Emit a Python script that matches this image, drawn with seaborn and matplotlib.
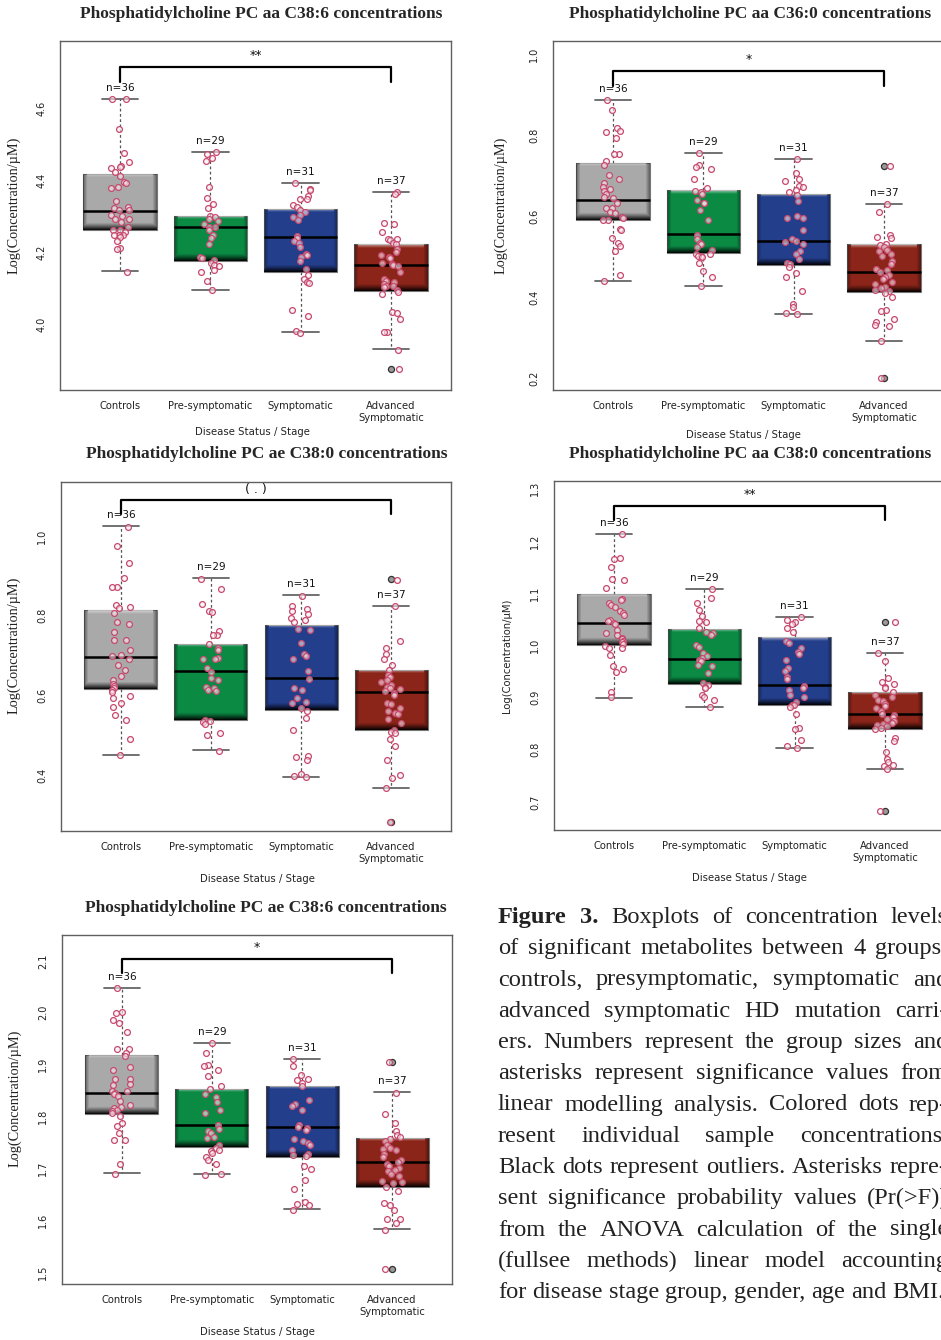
import numpy as np
import pandas as pd
import matplotlib
matplotlib.use("Agg")
import matplotlib.pyplot as plt
import seaborn as sns

# groups shared by every panel
groups = ["Controls", "Pre-symptomatic", "Symptomatic", "Advanced\nSymptomatic"]
group_n = [36, 29, 31, 37]
box_colors = ["#a9a9a9", "#0b8a44", "#233e8b", "#8c2519"]

# PC aa C38:6
aa386_title = "Phosphatidylcholine PC aa C38:6 concentrations"
aa386_sig = "**"
aa386_yticks = [4.0, 4.2, 4.4, 4.6]
aa386_whislo = [4.147, 4.094, 3.977, 3.931]
aa386_q1 = [4.261, 4.175, 4.144, 4.092]
aa386_med = [4.314, 4.270, 4.241, 4.164]
aa386_q3 = [4.417, 4.300, 4.319, 4.222]
aa386_whishi = [4.625, 4.478, 4.392, 4.367]
aa386_fliers = [[], [], [], [3.874]]
aa386_points = [
    [4.625, 4.625, 4.543, 4.475, 4.449, 4.440, 4.437, 4.432, 4.422, 4.411, 4.395, 4.393,
     4.381, 4.379, 4.341, 4.325, 4.321, 4.318, 4.316, 4.304, 4.300, 4.293, 4.291, 4.284,
     4.269, 4.262, 4.260, 4.257, 4.248, 4.247, 4.246, 4.242, 4.231, 4.212, 4.209, 4.145],
    [4.478, 4.472, 4.462, 4.453, 4.381, 4.350, 4.334, 4.321, 4.299, 4.297, 4.293, 4.286,
     4.279, 4.270, 4.270, 4.260, 4.246, 4.240, 4.222, 4.186, 4.184, 4.177, 4.171, 4.163,
     4.161, 4.149, 4.144, 4.119, 4.094],
    [4.392, 4.376, 4.373, 4.356, 4.347, 4.346, 4.330, 4.325, 4.317, 4.310, 4.302, 4.298,
     4.289, 4.245, 4.240, 4.230, 4.225, 4.214, 4.194, 4.191, 4.186, 4.174, 4.153, 4.135,
     4.125, 4.117, 4.115, 4.040, 4.023, 3.980, 3.976],
    [4.367, 4.362, 4.281, 4.278, 4.257, 4.237, 4.235, 4.233, 4.226, 4.221, 4.209, 4.200,
     4.193, 4.186, 4.183, 4.170, 4.168, 4.163, 4.161, 4.145, 4.125, 4.121, 4.117, 4.110,
     4.107, 4.105, 4.103, 4.096, 4.090, 4.083, 4.033, 4.031, 4.015, 3.979, 3.977, 3.929, 3.874],
]

# PC aa C36:0
aa360_title = "Phosphatidylcholine PC aa C36:0 concentrations"
aa360_sig = "*"
aa360_yticks = [0.2, 0.4, 0.6, 0.8, 1.0]
aa360_whislo = [0.440, 0.427, 0.358, 0.291]
aa360_q1 = [0.590, 0.509, 0.478, 0.412]
aa360_med = [0.639, 0.556, 0.538, 0.462]
aa360_q3 = [0.731, 0.664, 0.655, 0.530]
aa360_whishi = [0.886, 0.755, 0.740, 0.630]
aa360_fliers = [[], [], [], [0.723, 0.199]]
aa360_points = [
    [0.886, 0.862, 0.818, 0.810, 0.808, 0.793, 0.754, 0.753, 0.736, 0.726, 0.700, 0.692,
     0.682, 0.672, 0.667, 0.662, 0.655, 0.647, 0.643, 0.631, 0.620, 0.619, 0.610, 0.606,
     0.598, 0.594, 0.590, 0.589, 0.568, 0.565, 0.546, 0.534, 0.526, 0.514, 0.453, 0.439],
    [0.755, 0.725, 0.720, 0.715, 0.692, 0.668, 0.662, 0.660, 0.653, 0.640, 0.633, 0.631,
     0.614, 0.591, 0.554, 0.544, 0.534, 0.531, 0.524, 0.517, 0.507, 0.507, 0.502, 0.500,
     0.498, 0.484, 0.465, 0.448, 0.426],
    [0.740, 0.705, 0.690, 0.685, 0.675, 0.672, 0.663, 0.658, 0.652, 0.637, 0.600, 0.596,
     0.594, 0.564, 0.542, 0.537, 0.535, 0.530, 0.514, 0.507, 0.494, 0.483, 0.480, 0.475,
     0.458, 0.450, 0.415, 0.383, 0.376, 0.359, 0.357],
    [0.723, 0.630, 0.610, 0.553, 0.549, 0.545, 0.530, 0.528, 0.524, 0.517, 0.513, 0.507,
     0.500, 0.489, 0.480, 0.470, 0.466, 0.461, 0.455, 0.450, 0.444, 0.436, 0.433, 0.424,
     0.421, 0.417, 0.415, 0.410, 0.400, 0.367, 0.364, 0.346, 0.339, 0.330, 0.328, 0.290, 0.199],
]

# PC ae C38:0
ae380_title = "Phosphatidylcholine PC ae C38:0 concentrations"
ae380_sig = "( . )"
ae380_yticks = [0.4, 0.6, 0.8, 1.0]
ae380_whislo = [0.450, 0.463, 0.395, 0.367]
ae380_q1 = [0.616, 0.538, 0.563, 0.513]
ae380_med = [0.696, 0.661, 0.643, 0.608]
ae380_q3 = [0.814, 0.729, 0.777, 0.664]
ae380_whishi = [1.025, 0.894, 0.852, 0.824]
ae380_fliers = [[], [], [], [0.891, 0.281]]
ae380_points = [
    [1.023, 0.974, 0.933, 0.895, 0.873, 0.872, 0.826, 0.823, 0.820, 0.807, 0.784, 0.778,
     0.759, 0.740, 0.738, 0.713, 0.702, 0.698, 0.691, 0.675, 0.663, 0.649, 0.638, 0.629,
     0.623, 0.619, 0.613, 0.608, 0.598, 0.594, 0.581, 0.571, 0.550, 0.537, 0.489, 0.449],
    [0.893, 0.867, 0.830, 0.811, 0.810, 0.762, 0.752, 0.751, 0.728, 0.720, 0.715, 0.694,
     0.692, 0.690, 0.668, 0.659, 0.644, 0.639, 0.621, 0.618, 0.614, 0.611, 0.537, 0.535,
     0.532, 0.527, 0.506, 0.500, 0.461],
    [0.850, 0.825, 0.817, 0.813, 0.805, 0.794, 0.788, 0.783, 0.766, 0.764, 0.732, 0.705,
     0.698, 0.691, 0.660, 0.642, 0.618, 0.613, 0.592, 0.583, 0.580, 0.568, 0.561, 0.544,
     0.512, 0.447, 0.445, 0.438, 0.401, 0.397, 0.395],
    [0.890, 0.824, 0.736, 0.720, 0.704, 0.690, 0.675, 0.663, 0.652, 0.645, 0.638, 0.633,
     0.625, 0.620, 0.619, 0.617, 0.611, 0.605, 0.600, 0.580, 0.577, 0.568, 0.561, 0.556,
     0.552, 0.541, 0.530, 0.512, 0.507, 0.505, 0.490, 0.473, 0.438, 0.399, 0.392, 0.366, 0.281],
]

# PC aa C38:0
aa380_title = "Phosphatidylcholine PC aa C38:0 concentrations"
aa380_sig = "**"
aa380_yticks = [0.7, 0.8, 0.9, 1.0, 1.1, 1.2, 1.3]
aa380_whislo = [0.899, 0.882, 0.803, 0.763]
aa380_q1 = [1.001, 0.926, 0.886, 0.840]
aa380_med = [1.043, 0.974, 0.924, 0.869]
aa380_q3 = [1.099, 1.032, 1.016, 0.911]
aa380_whishi = [1.214, 1.108, 1.055, 0.986]
aa380_fliers = [[], [], [], [1.044, 0.683]]
aa380_points = [
    [1.213, 1.167, 1.166, 1.151, 1.127, 1.126, 1.110, 1.088, 1.087, 1.081, 1.078, 1.073,
     1.065, 1.062, 1.058, 1.049, 1.046, 1.042, 1.041, 1.030, 1.023, 1.020, 1.014, 1.012,
     1.009, 1.006, 1.003, 0.998, 0.995, 0.994, 0.981, 0.961, 0.954, 0.948, 0.910, 0.900],
    [1.108, 1.090, 1.081, 1.068, 1.057, 1.046, 1.044, 1.034, 1.025, 1.023, 1.019, 1.001,
     0.996, 0.986, 0.979, 0.975, 0.972, 0.969, 0.962, 0.960, 0.947, 0.927, 0.923, 0.920,
     0.918, 0.905, 0.901, 0.896, 0.882],
    [1.054, 1.049, 1.044, 1.041, 1.033, 1.025, 1.009, 1.004, 0.995, 0.988, 0.984, 0.972,
     0.957, 0.950, 0.940, 0.935, 0.922, 0.918, 0.915, 0.905, 0.900, 0.892, 0.885, 0.885,
     0.881, 0.868, 0.842, 0.840, 0.818, 0.807, 0.804],
    [1.044, 0.986, 0.969, 0.938, 0.929, 0.925, 0.920, 0.919, 0.910, 0.905, 0.900, 0.895,
     0.894, 0.887, 0.883, 0.880, 0.875, 0.869, 0.867, 0.862, 0.858, 0.855, 0.852, 0.850,
     0.847, 0.845, 0.841, 0.839, 0.822, 0.817, 0.796, 0.782, 0.777, 0.771, 0.769, 0.763, 0.683],
]

# PC ae C38:6
ae386_title = "Phosphatidylcholine PC ae C38:6 concentrations"
ae386_sig = "*"
ae386_yticks = [1.5, 1.6, 1.7, 1.8, 1.9, 2.0, 2.1]
ae386_whislo = [1.691, 1.689, 1.622, 1.583]
ae386_q1 = [1.805, 1.741, 1.722, 1.664]
ae386_med = [1.845, 1.784, 1.780, 1.712]
ae386_q3 = [1.919, 1.853, 1.859, 1.759]
ae386_whishi = [2.048, 1.942, 1.911, 1.847]
ae386_fliers = [[], [], [], [1.906, 1.506]]
ae386_points = [
    [2.048, 2.001, 2.000, 1.987, 1.980, 1.962, 1.931, 1.930, 1.922, 1.917, 1.895, 1.889,
     1.873, 1.873, 1.862, 1.860, 1.850, 1.849, 1.846, 1.843, 1.839, 1.830, 1.822, 1.819,
     1.817, 1.812, 1.810, 1.806, 1.801, 1.788, 1.782, 1.769, 1.755, 1.754, 1.709, 1.690],
    [1.942, 1.922, 1.899, 1.898, 1.889, 1.878, 1.859, 1.853, 1.843, 1.838, 1.828, 1.812,
     1.806, 1.783, 1.775, 1.772, 1.768, 1.760, 1.759, 1.746, 1.739, 1.735, 1.733, 1.730,
     1.722, 1.716, 1.709, 1.690, 1.688],
    [1.911, 1.897, 1.880, 1.873, 1.871, 1.864, 1.859, 1.831, 1.825, 1.820, 1.812, 1.783,
     1.780, 1.778, 1.774, 1.756, 1.753, 1.749, 1.745, 1.736, 1.728, 1.725, 1.723, 1.705,
     1.699, 1.677, 1.660, 1.635, 1.631, 1.629, 1.620],
    [1.906, 1.846, 1.804, 1.787, 1.772, 1.764, 1.760, 1.757, 1.753, 1.745, 1.740, 1.738,
     1.736, 1.728, 1.722, 1.716, 1.712, 1.709, 1.705, 1.700, 1.696, 1.694, 1.690, 1.685,
     1.676, 1.674, 1.671, 1.665, 1.656, 1.633, 1.629, 1.620, 1.603, 1.602, 1.595, 1.582, 1.506],
]

caption_lines = [
    "Figure 3. Boxplots of concentration levels",
    "of significant metabolites between 4 groups:",
    "controls, presymptomatic, symptomatic and",
    "advanced symptomatic HD mutation carri-",
    "ers. Numbers represent the group sizes and",
    "asterisks represent significance values from",
    "linear modelling analysis. Colored dots rep-",
    "resent individual sample concentrations.",
    "Black dots represent outliers. Asterisks repre-",
    "sent significance probability values (Pr(>F))",
    "from the ANOVA calculation of the single",
    "(fullsee methods) linear model accounting",
    "for disease stage group, gender, age and BMI.",
]

panels = [
    (aa386_title, aa386_sig, aa386_yticks, aa386_whislo, aa386_q1, aa386_med, aa386_q3, aa386_whishi, aa386_fliers, aa386_points),
    (aa360_title, aa360_sig, aa360_yticks, aa360_whislo, aa360_q1, aa360_med, aa360_q3, aa360_whishi, aa360_fliers, aa360_points),
    (ae380_title, ae380_sig, ae380_yticks, ae380_whislo, ae380_q1, ae380_med, ae380_q3, ae380_whishi, ae380_fliers, ae380_points),
    (aa380_title, aa380_sig, aa380_yticks, aa380_whislo, aa380_q1, aa380_med, aa380_q3, aa380_whishi, aa380_fliers, aa380_points),
    (ae386_title, ae386_sig, ae386_yticks, ae386_whislo, ae386_q1, ae386_med, ae386_q3, ae386_whishi, ae386_fliers, ae386_points),
]

# layout in pixels (left, top, right, bottom) + axis ranges and bracket heights
layout = [
    dict(rect=(60, 41, 451, 390), ylim=(3.817, 4.786), bracket=(4.672, 4.714),
         title=(261, 17.5), ylab=(14, 205), xlab=(252, 432), serif_ylab=True),
    dict(rect=(553, 41, 944, 390), ylim=(0.170, 1.032), bracket=(0.921, 0.958),
         title=(750, 17.5), ylab=(501, 205), xlab=(743, 435), serif_ylab=True),
    dict(rect=(61, 482, 451, 831), ylim=(0.259, 1.136), bracket=(1.055, 1.090),
         title=(267, 458), ylab=(14, 645), xlab=(257, 879), serif_ylab=True),
    dict(rect=(554, 481, 945, 830), ylim=(0.646, 1.315), bracket=(1.241, 1.267),
         title=(750, 458), ylab=(507, 656), xlab=(749, 878), serif_ylab=False),
    dict(rect=(62, 935, 452, 1284), ylim=(1.477, 2.150), bracket=(2.077, 2.104),
         title=(266, 912), ylab=(15, 1098), xlab=(257, 1332), serif_ylab=True),
]

W, H = 941, 1340
XLIM = (-0.664, 3.664)
BOX_W = 0.81

sns.set_style("white")
plt.rcParams['font.family'] = ['DejaVu Sans']
np.random.seed(7)

fig = plt.figure(figsize=(W / 100, H / 100), dpi=100)
fig.patch.set_facecolor("white")


def fx(px):
    return px / W


def fy(py):
    return 1 - py / H


def shade_box(ax, patch, x0, x1, y0, y1, ppu_x, ppu_y):
    # glossy bevel: light strip at top, dark band at bottom, darker sides
    h = max(int(round((y1 - y0) * ppu_y)), 2)
    w = max(int(round((x1 - x0) * ppu_x)), 2)
    rows = np.arange(h)[:, None]
    cols = np.arange(w)[None, :]
    top = np.clip(1 - rows / 3.5, 0, 1) * 0.5
    bot = np.clip(1 - (h - 1 - rows) / 7.0, 0, 1) ** 1.2 * 0.92
    side = np.clip(1 - np.minimum(cols, w - 1 - cols) / 4.0, 0, 1) * 0.4
    dark = np.maximum(np.broadcast_to(bot, (h, w)), side)
    light = np.broadcast_to(top, (h, w)) * (dark < 0.05)
    img = np.zeros((h, w, 4))
    img[..., :3] = np.where(light[..., None] > 0, 1.0, 0.0)
    img[..., 3] = np.where(light > 0, light, dark)
    im = ax.imshow(img, extent=(x0, x1, y0, y1), origin="upper", aspect="auto",
                   interpolation="bilinear", zorder=2.05)
    im.set_clip_path(patch)


for (title, sig, yticks, whislo, q1, med, q3, whishi, fliers, points), lay in zip(panels, layout):
    l, t, r, b = lay["rect"]
    ax = fig.add_axes([fx(l), fy(b), fx(r - l), (b - t) / H])
    ax.set_facecolor("white")
    ax.set_xlim(*XLIM)
    ax.set_ylim(*lay["ylim"])

    stats = [dict(med=med[i], q1=q1[i], q3=q3[i], whislo=whislo[i], whishi=whishi[i],
                  fliers=fliers[i]) for i in range(4)]
    bp = ax.bxp(stats, positions=range(4), widths=BOX_W, capwidths=BOX_W / 2,
                patch_artist=True, showfliers=True,
                boxprops=dict(edgecolor="#777777", linewidth=0.8),
                medianprops=dict(color="black", linewidth=1.8, zorder=2.5),
                whiskerprops=dict(color="#555555", linestyle=(0, (2.2, 2.0)), linewidth=0.9),
                capprops=dict(color="#666666", linewidth=1.3),
                flierprops=dict(marker="o", markersize=4.4, markerfacecolor="#9a9a9a",
                                markeredgecolor="#333333", markeredgewidth=0.9))
    ppu_x = (r - l) / (XLIM[1] - XLIM[0])
    ppu_y = (b - t) / (lay["ylim"][1] - lay["ylim"][0])
    for i, patch in enumerate(bp["boxes"]):
        patch.set_facecolor(box_colors[i])
        shade_box(ax, patch, i - BOX_W / 2, i + BOX_W / 2, q1[i], q3[i], ppu_x, ppu_y)

    df = pd.DataFrame({
        "group": np.repeat(groups, [len(p) for p in points]),
        "value": np.concatenate(points),
    })
    before = len(ax.collections)
    sns.stripplot(data=df, x="group", y="value", order=groups, jitter=0.11, size=4.2,
                  color="#f5dde2", linewidth=0.9, edgecolor="#c4496b", ax=ax, zorder=4)
    for c in ax.collections[before:]:
        c.set_facecolor((0.99, 0.93, 0.95, 0.6))
        c.set_edgecolor("#c64a6e")
        c.set_linewidth(0.9)

    for i in range(4):
        ax.annotate(f"n={group_n[i]}", xy=(i, whishi[i]), xytext=(0, 8),
                    textcoords="offset points", ha="center", va="center", fontsize=7.5,
                    color="#111111", zorder=5)

    lo, hi = lay["bracket"]
    ax.plot([0, 0, 3, 3], [lo, hi, hi, lo], color="black", lw=1.6, clip_on=False, zorder=5)
    ax.annotate(sig, xy=(1.5, hi), xytext=(0, 8), textcoords="offset points",
                ha="center", va="center", fontsize=9, color="#111111")

    ax.set_xlim(*XLIM)
    ax.set_ylim(*lay["ylim"])
    ax.set_xticks(range(4))
    ax.set_xticklabels(groups, fontsize=7.2, color="#222222", linespacing=1.25)
    ax.set_yticks(yticks)
    ax.set_yticklabels([f"{v:.1f}" for v in yticks], fontsize=7, color="#222222",
                       rotation=90, va="center")
    ax.tick_params(axis="x", length=4.3, width=0.9, color="#555555", pad=3.5, direction="out")
    ax.tick_params(axis="y", length=0, pad=10)
    ax.set_xlabel("")
    ax.set_ylabel("")
    for sp in ax.spines.values():
        sp.set_color("#606060")
        sp.set_linewidth(1.0)

    fig.text(fx(lay["title"][0]), fy(lay["title"][1]), title, ha="center", va="baseline",
             fontsize=12.5, fontweight="bold", family=["Liberation Serif", "DejaVu Serif"])
    if lay["serif_ylab"]:
        fig.text(fx(lay["ylab"][0]), fy(lay["ylab"][1]), "Log(Concentration/\u00b5M)",
                 rotation=90, ha="center", va="center", fontsize=10.3,
                 family=["Liberation Serif", "DejaVu Serif"], color="#222222")
    else:
        fig.text(fx(lay["ylab"][0]), fy(lay["ylab"][1]), "Log(Concentration/\u00b5M)",
                 rotation=90, ha="center", va="center", fontsize=7.2, color="#222222")
    fig.text(fx(lay["xlab"][0]), fy(lay["xlab"][1]), "Disease Status / Stage",
             ha="center", va="center", fontsize=7.3, color="#222222")

# justified caption in the lower right (cut by the page edge as in the source)
renderer = fig.canvas.get_renderer()
cap_left, cap_right = 498, 948
cap_size = 17.6
for i, line in enumerate(caption_lines):
    y = fy(923 + i * 31.25)
    words = line.split()
    texts = []
    for j, w in enumerate(words):
        bold = (i == 0 and j < 2)
        texts.append(fig.text(0, y, w, fontsize=cap_size, va="baseline", ha="left",
                              fontweight="bold" if bold else "normal", color="#222222",
                              family=["Liberation Serif", "DejaVu Serif"]))
    widths = [tx.get_window_extent(renderer).width for tx in texts]
    if i < len(caption_lines) - 1 and len(words) > 1:
        gap = (cap_right - cap_left - sum(widths)) / (len(words) - 1)
    else:
        gap = cap_size * 100 / 72 * 0.25
    x = cap_left
    for tx, w in zip(texts, widths):
        tx.set_x(fx(x))
        x += w + gap

fig.savefig("out.png", dpi=100)
plt.close(fig)
